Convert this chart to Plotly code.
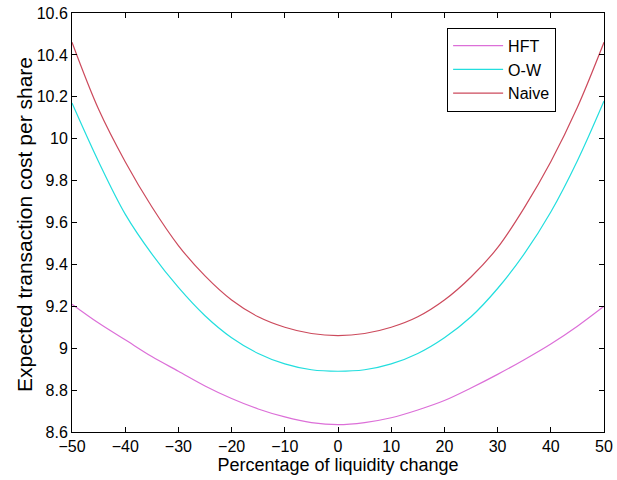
import plotly.graph_objects as go

x_pct = [-50, -45, -40, -35, -30, -25, -20, -15, -10, -5, 0, 5, 10, 15, 20, 25, 30, 35, 40, 45, 50]
hft = [9.21, 9.12, 9.04, 8.96, 8.89, 8.82, 8.76, 8.71, 8.672, 8.645, 8.635, 8.645, 8.668, 8.705, 8.75, 8.81, 8.875, 8.945, 9.02, 9.105, 9.20]
ow = [10.17, 9.89, 9.64, 9.45, 9.29, 9.155, 9.05, 8.975, 8.925, 8.897, 8.89, 8.897, 8.925, 8.975, 9.05, 9.15, 9.285, 9.45, 9.65, 9.895, 10.18]
naive = [10.46, 10.14, 9.89, 9.675, 9.49, 9.345, 9.23, 9.15, 9.10, 9.07, 9.06, 9.07, 9.10, 9.15, 9.23, 9.34, 9.48, 9.67, 9.89, 10.15, 10.46]

series = [("HFT", hft, "#dc6fd8"), ("O-W", ow, "#22dede"), ("Naive", naive, "#cc4a5c")]

fig = go.Figure()
for name, vals, col in series:
    fig.add_trace(go.Scatter(x=x_pct, y=vals, name=name, mode="lines",
                             line=dict(color=col, width=1.2, shape="spline", smoothing=1.0)))

axis_common = dict(showgrid=False, zeroline=False, showline=True, linecolor="black", linewidth=1,
                   mirror="allticks", ticks="inside", ticklen=5, tickcolor="black", automargin=False,
                   tickfont=dict(family="Liberation Sans, Arial", size=16, color="black"))

fig.update_layout(
    width=617, height=480,
    margin=dict(l=72, r=13, t=13, b=48),
    paper_bgcolor="white", plot_bgcolor="white",
    font=dict(family="Liberation Sans, Arial", size=16, color="black"),
    xaxis=dict(range=[-50, 50], dtick=10, tick0=-50,
               title=dict(text="Percentage of liquidity change", standoff=2,
                          font=dict(size=18)), **axis_common),
    yaxis=dict(range=[8.6, 10.6], dtick=0.2, tick0=8.6, **axis_common),
    legend=dict(x=0.91, y=0.965, xanchor="right", yanchor="top",
                bgcolor="white", bordercolor="black", borderwidth=1,
                font=dict(size=16), tracegroupgap=0, itemwidth=50),
    showlegend=True,
    annotations=[dict(text="Expected transaction cost per share", textangle=-90,
                      xref="paper", yref="paper", x=(24 - 72) / 532, y=0.494,
                      xanchor="center", yanchor="middle", showarrow=False,
                      font=dict(size=21, color="black"))],
)

fig.write_html("out.html")
